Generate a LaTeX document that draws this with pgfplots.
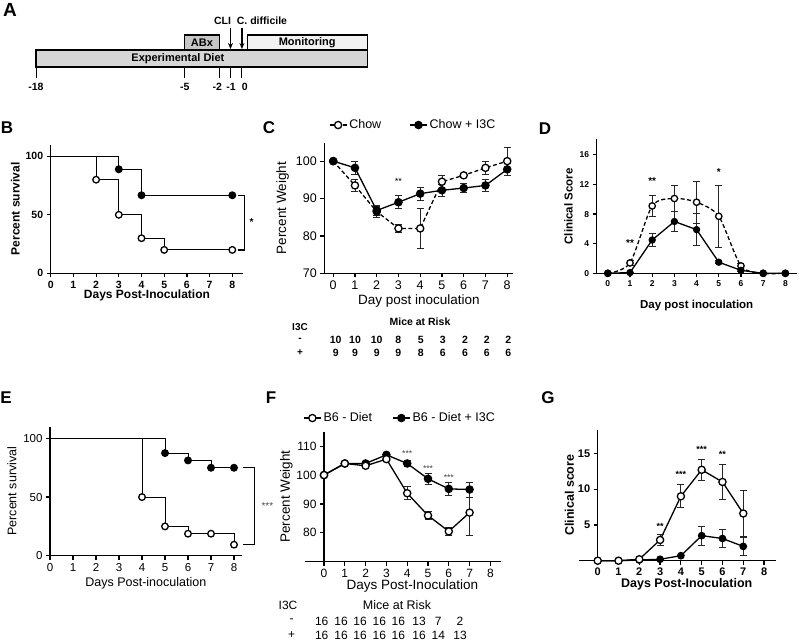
\documentclass[border=0pt]{standalone}
\usepackage{pgfplots}
\pgfplotsset{compat=1.18}
\usepackage{fontspec}
\setmainfont{Liberation Sans}
\usetikzlibrary{arrows.meta}
\newcommand{\fs}[1]{\fontsize{#1}{#1}\selectfont}

\pgfplotsset{
  gp/.style={
    scale only axis, anchor=south west, clip=false,
    axis x line=bottom, axis y line=left,
    axis line style={-, line width=1.4pt},
    tick align=outside, major tick length=4pt,
    every tick/.style={black, line width=1.2pt},
    /pgf/number format/assume math mode=true,
    xtick={0,...,8},
  },
  op/.style={black, line width=1.3pt, mark=*, mark size=3.6pt, mark options={fill=white, line width=1.3pt, solid}},
  cl/.style={black, line width=1.3pt, mark=*, mark size=3.6pt, mark options={fill=black, solid}},
  eb/.style={/pgfplots/error bars/y dir=both, /pgfplots/error bars/y explicit,
    /pgfplots/error bars/error bar style={line width=0.9pt, solid, black!85},
    /pgfplots/error bars/error mark options={rotate=90, mark size=3.5pt, line width=0.9pt, solid, black!85}},
}

\begin{document}
\begin{tikzpicture}
\useasboundingbox (0pt,0pt) rectangle (800pt,-642pt);

% panel letters
\node[font=\bfseries\fs{19}] at (10pt,-10pt) {A};
\node[font=\bfseries\fs{17}] at (7pt,-128pt) {B};
\node[font=\bfseries\fs{17}] at (269pt,-128pt) {C};
\node[font=\bfseries\fs{17}] at (545pt,-129pt) {D};
\node[font=\bfseries\fs{17}] at (6pt,-398pt) {E};
\node[font=\bfseries\fs{17}] at (271pt,-398pt) {F};
\node[font=\bfseries\fs{17}] at (548pt,-398pt) {G};

% ---------------- Panel A ----------------
\begin{axis}[at={(36pt,-90pt)}, anchor=south west, scale only axis,
  width=331.8pt, height=80pt, xmin=-18, xmax=11, ymin=0, ymax=80,
  axis lines=none, clip=false]
\addplot[fill=gray!32, draw=black, line width=1.1pt] coordinates {(-18,23) (11,23) (11,40) (-18,40)} -- cycle;
\addplot[fill=gray!45, draw=black, line width=1.1pt] coordinates {(-5,40) (-2,40) (-2,55) (-5,55)} -- cycle;
\addplot[fill=gray!10, draw=black, line width=1.1pt] coordinates {(0.45,40) (11,40) (11,55) (0.45,55)} -- cycle;
\draw[line width=1pt] (axis cs:-18,23) -- (axis cs:-18,12);
\draw[line width=1pt] (axis cs:-5,23) -- (axis cs:-5,12);
\draw[line width=1pt] (axis cs:-2,23) -- (axis cs:-2,12);
\draw[line width=1pt] (axis cs:-1,23) -- (axis cs:-1,12);
\draw[line width=1pt] (axis cs:0,23) -- (axis cs:0,12);
\node[font=\bfseries\fs{10.5}] at (axis cs:-18,3) {-18};
\node[font=\bfseries\fs{10.5}] at (axis cs:-5,3) {-5};
\node[font=\bfseries\fs{10.5}] at (axis cs:-2.15,3) {-2};
\node[font=\bfseries\fs{10.5}] at (axis cs:-0.95,3) {-1};
\node[font=\bfseries\fs{10.5}] at (axis cs:0.25,3) {0};
\draw[-{Stealth[length=6pt,width=5pt]}, line width=1.2pt] (axis cs:-1,62) -- (axis cs:-1,41);
\draw[-{Stealth[length=6pt,width=5pt]}, line width=1.2pt] (axis cs:0,62) -- (axis cs:0,41);
\node[font=\bfseries\fs{10.5}] at (axis cs:-1.7,69.5) {CLI};
\node[font=\bfseries\fs{10.5}] at (axis cs:1.75,69.5) {C. difficile};
\node[font=\bfseries\fs{11}] at (axis cs:-5.6,31.5) {Experimental Diet};
\node[font=\bfseries\fs{11}] at (axis cs:-3.5,47.5) {ABx};
\node[font=\bfseries\fs{11}] at (axis cs:5.7,47.5) {Monitoring};
\end{axis}

% ---------------- Panel B ----------------
\begin{axis}[gp, at={(50.7pt,-273.3pt)}, width=192.5pt, height=128.7pt,
  xmin=0, xmax=8.48, ymin=0, ymax=110, ytick={0,50,100},
  tick label style={font=\bfseries\fs{10.5}},
  xlabel={Days Post-Inoculation}, ylabel={Percent survival},
  label style={font=\bfseries\fs{12}},
  xlabel style={yshift=5pt}, ylabel style={yshift=-1pt}]
\addplot[const plot, black, line width=1pt] coordinates {(0,100) (2,80) (3,50) (4,30) (5,20) (8,20)};
\addplot[const plot, black, line width=1pt] coordinates {(0,100) (3,88.9) (4,66.7) (8,66.7)};
\addplot[only marks, op, mark size=3.3pt] coordinates {(2,80) (3,50) (4,30) (5,20) (8,20)};
\addplot[only marks, cl, mark size=3.3pt] coordinates {(3,88.9) (4,66.7) (8,66.7)};
\draw[line width=1.4pt] (axis cs:8.26,66.7) -- (axis cs:8.53,66.7) -- (axis cs:8.53,20) -- (axis cs:8.26,20);
\node[font=\bfseries\fs{10}] at (axis cs:8.85,44) {*};
\end{axis}

% ---------------- Panel C ----------------
\begin{axis}[gp, at={(324.3pt,-273.3pt)}, width=189pt, height=130.5pt,
  xmin=-0.41, xmax=8.28, ymin=70, ymax=104.9, ytick={70,80,90,100},
  tick label style={font=\fs{12.5}},
  xlabel={Day post inoculation}, ylabel={Percent Weight},
  label style={font=\fs{13.5}}, xlabel style={yshift=2pt},
  legend columns=2,
  legend style={at={(rel axis cs:0.47,1.136)}, anchor=center, draw=none, fill=none,
    font=\fs{12.5}, /tikz/every even column/.append style={column sep=26pt}}]
\addplot[op, dash pattern=on 4pt off 2.5pt, eb] coordinates {
 (0,100) +- (0,0) (1,93.5) +- (0,1.5) (2,86.5) +- (0,1.5) (3,82) +- (0,1)
 (4,82) +- (0,5.3) (5,94.5) +- (0,1.8) (6,96.2) +- (0,0.5) (7,98.2) +- (0,1.8) (8,100) +- (0,3.7)};
\addlegendentry{Chow}
\addplot[cl, eb] coordinates {
 (0,100) +- (0,0) (1,98.2) +- (0,1.8) (2,86.8) +- (0,1.4) (3,89) +- (0,1.7)
 (4,91.3) +- (0,1.7) (5,92.2) +- (0,1.6) (6,92.8) +- (0,1.3) (7,93.5) +- (0,1.6) (8,97.8) +- (0,1.5)};
\addlegendentry{Chow + I3C}
\node[font=\fs{9}] at (axis cs:3,94.7) {**};
\end{axis}
% table C
\node[font=\bfseries\fs{10}] at (300pt,-327pt) {I3C};
\node[font=\bfseries\fs{10.5}] at (420pt,-322pt) {Mice at Risk};
\node[font=\bfseries\fs{10}] at (300pt,-340pt) {-};
\node[font=\bfseries\fs{10}] at (300pt,-353pt) {+};
\foreach \xx/\aa/\bb in {335.7/10/9, 355/10/9, 376.7/10/9, 398.3/8/9, 420.7/5/8, 442.7/3/6, 465/2/6, 486.7/2/6, 508.3/2/6} {
  \node[font=\bfseries\fs{10.5}] at (\xx pt,-340pt) {\aa};
  \node[font=\bfseries\fs{10.5}] at (\xx pt,-353pt) {\bb};
}

% ---------------- Panel D ----------------
\begin{axis}[gp, at={(596.7pt,-273.3pt)}, width=200pt, height=134pt,
  xmin=-0.5, xmax=8.51, ymin=0, ymax=18.1, ytick={0,4,8,12,16},
  tick label style={font=\bfseries\fs{8.5}},
  xlabel={Day post inoculation}, ylabel={Clinical Score},
  label style={font=\bfseries\fs{11.5}}, xlabel style={yshift=-6pt}]
\addplot[op, mark size=3.2pt, dash pattern=on 4pt off 2.5pt, smooth, tension=0.45, eb] coordinates {
 (0,0) +- (0,0) (1,1.4) +- (0,0.3) (2,9.1) +- (0,1.4) (3,10.1) +- (0,1.8) (4,9.6) +- (0,2.8)
 (5,7.7) +- (0,4.2) (6,1.0) +- (0,0.3) (7,0) +- (0,0) (8,0) +- (0,0)};
\addplot[cl, mark size=3pt, eb] coordinates {
 (0,0) +- (0,0) (1,0.1) +- (0,0) (2,4.5) +- (0,0.85) (3,7.0) +- (0,1.4) (4,5.9) +- (0,2.2)
 (5,1.5) +- (0,0.2) (6,0.4) +- (0,0.2) (7,0) +- (0,0) (8,0) +- (0,0)};
\node[font=\bfseries\fs{10}] at (axis cs:1,4.1) {**};
\node[font=\bfseries\fs{10}] at (axis cs:2,12.5) {**};
\node[font=\bfseries\fs{10}] at (axis cs:5,13.7) {*};
\end{axis}

% ---------------- Panel E ----------------
\begin{axis}[gp, at={(50pt,-555.7pt)}, width=191.6pt, height=129pt,
  xmin=0, xmax=8.33, ymin=0, ymax=110, ytick={0,50,100},
  tick label style={font=\fs{11.5}},
  xlabel={Days Post-inoculation}, ylabel={Percent survival},
  label style={font=\fs{12.5}}, xlabel style={yshift=1pt}]
\addplot[const plot, black, line width=1pt] coordinates {(0,100) (4,50) (5,25) (6,18.75) (7,18.75) (8,9.4)};
\addplot[const plot, black, line width=1pt] coordinates {(0,100) (5,87.5) (6,81.25) (7,75) (8,75)};
\addplot[only marks, op, mark size=3.3pt] coordinates {(4,50) (5,25) (6,18.75) (7,18.75) (8,9.4)};
\addplot[only marks, cl, mark size=3.3pt] coordinates {(5,87.5) (6,81.25) (7,75) (8,75)};
\draw[line width=1pt] (axis cs:8.39,75) -- (axis cs:8.91,75) -- (axis cs:8.91,9.4) -- (axis cs:8.39,9.4);
\node[font=\fs{10}, text=black!70] at (axis cs:9.45,42) {***};
\end{axis}

% ---------------- Panel F ----------------
\begin{axis}[gp, at={(324pt,-561.7pt)}, width=176.8pt, height=130pt,
  xmin=0, xmax=8.5, ymin=70, ymax=115, ytick={80,90,100,110},
  tick label style={font=\fs{12}},
  xlabel={Days Post-Inoculation}, ylabel={Percent Weight},
  label style={font=\fs{13.5}}, xlabel style={yshift=5pt}, ylabel style={yshift=-3pt},
  legend columns=2,
  legend style={at={(rel axis cs:0.43,1.105)}, anchor=center, draw=none, fill=none,
    font=\fs{12.5}, /tikz/every even column/.append style={column sep=18pt}}]
\draw[line width=1.4pt] (axis cs:-0.92,70) -- (axis cs:0,70);
\addlegendimage{op}
\addlegendentry{B6 - Diet}
\addlegendimage{cl}
\addlegendentry{B6 - Diet + I3C}
\addplot[cl, forget plot, eb] coordinates {
 (0,100) +- (0,0) (1,104) +- (0,0) (2,104) +- (0,0) (3,107) +- (0,0.3)
 (4,104) +- (0,1) (5,98.7) +- (0,1.8) (6,95.2) +- (0,2.4) (7,95) +- (0,2.6)};
\addplot[op, forget plot, eb] coordinates {
 (0,100) +- (0,0) (1,104) +- (0,0) (2,103.2) +- (0,0.5) (3,105.5) +- (0,0.5)
 (4,93.7) +- (0,2.2) (5,86) +- (0,1.5) (6,80.5) +- (0,1.5) (7,87) +- (0,7.8)};
\node[font=\fs{8.5}, text=black!75] at (axis cs:4,107.6) {***};
\node[font=\fs{8.5}, text=black!75] at (axis cs:5,102.3) {***};
\node[font=\fs{8.5}, text=black!75] at (axis cs:6,99.2) {***};
\end{axis}
% table F
\node[font=\fs{12}] at (288pt,-605pt) {I3C};
\node[font=\fs{12.5}] at (397pt,-605pt) {Mice at Risk};
\node[font=\fs{12}] at (291.7pt,-621pt) {-};
\node[font=\fs{12}] at (291.7pt,-635pt) {+};
\foreach \xx/\aa/\bb in {321.7/16/16, 341/16/16, 360/16/16, 379.3/16/16, 398.3/16/16, 419/13/16, 438.3/7/14, 460/2/13} {
  \node[font=\fs{12}] at (\xx pt,-621pt) {\aa};
  \node[font=\fs{12}] at (\xx pt,-635pt) {\bb};
}

% ---------------- Panel G ----------------
\begin{axis}[gp, at={(597.7pt,-560.7pt)}, width=178pt, height=131pt,
  xmin=0, xmax=8.56, ymin=0, ymax=18.3, ytick={5,10,15},
  tick label style={font=\bfseries\fs{11}},
  xlabel={Days Post-Inoculation}, ylabel={Clinical score},
  label style={font=\bfseries\fs{12.5}}, xlabel style={yshift=4pt}, ylabel style={yshift=-3pt}]
\draw[line width=1.4pt] (axis cs:-0.9,0) -- (axis cs:0,0);
\addplot[cl, mark size=3.2pt, eb] coordinates {
 (0,0) +- (0,0) (1,0) +- (0,0) (2,0.1) +- (0,0) (3,0.2) +- (0,0) (4,0.7) +- (0,0)
 (5,3.5) +- (0,1.3) (6,3.1) +- (0,1.2) (7,2.0) +- (0,1.3)};
\addplot[op, eb] coordinates {
 (0,0) +- (0,0) (1,0) +- (0,0) (2,0.2) +- (0,0) (3,2.9) +- (0,0.8) (4,9.0) +- (0,1.6)
 (5,12.7) +- (0,1.5) (6,11.0) +- (0,2.5) (7,6.6) +- (0,3.2)};
\node[font=\bfseries\fs{9}] at (axis cs:3,4.8) {**};
\node[font=\bfseries\fs{9}] at (axis cs:4,12.0) {***};
\node[font=\bfseries\fs{9}] at (axis cs:5,15.5) {***};
\node[font=\bfseries\fs{9}] at (axis cs:6,14.8) {**};
\end{axis}
\end{tikzpicture}
\end{document}
